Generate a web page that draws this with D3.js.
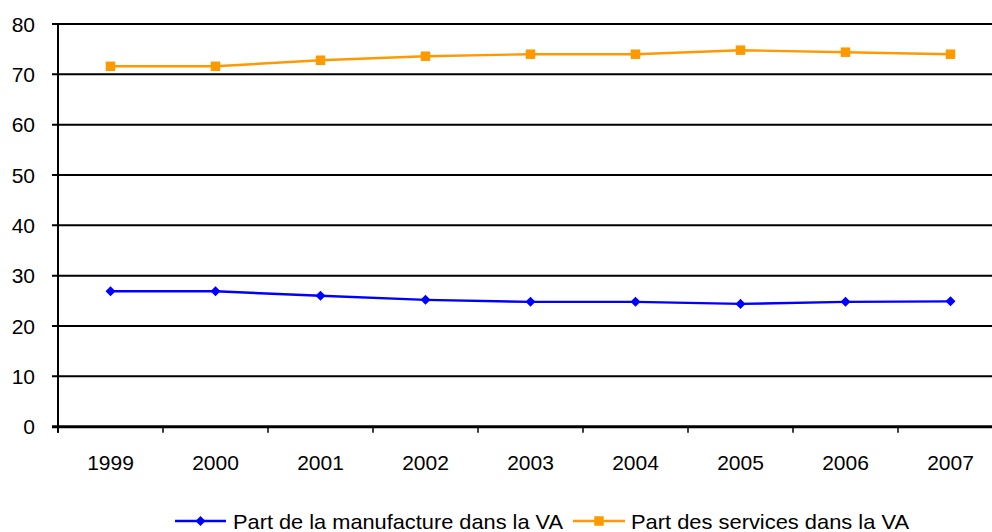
<!DOCTYPE html>
<html>
<head>
<meta charset="utf-8">
<script src="https://cdn.jsdelivr.net/npm/d3@7"></script>
<style>
  html, body { margin: 0; padding: 0; background: #fff; }
  svg { display: block; font-family: "Liberation Sans", Arial, sans-serif; }
</style>
</head>
<body>
<svg id="chart" width="992" height="532"></svg>
<script>
// Share of value added by sector, 1999–2007 (%)
const years = ["1999", "2000", "2001", "2002", "2003", "2004", "2005", "2006", "2007"];
const manufacture = [26.9, 26.9, 26.0, 25.2, 24.8, 24.8, 24.4, 24.8, 24.9];
const services = [71.6, 71.6, 72.8, 73.6, 74.0, 74.0, 74.8, 74.4, 74.0];
const yTicks = [0, 10, 20, 30, 40, 50, 60, 70, 80];
const seriesNames = ["Part de la manufacture dans la VA", "Part des services dans la VA"];

(function () {
  const svg = d3.select("#chart");
  const W = 992;
  const fontSize = 21;

  const plotLeft = 58, plotTop = 24, plotBottom = 426.7;
  const step = 105;

  const x = d3.scaleBand().domain(years).range([plotLeft, plotLeft + step * years.length]).padding(0);
  const y = d3.scaleLinear().domain([0, 80]).range([plotBottom, plotTop]);
  const cx = d => x(d) + x.bandwidth() / 2;

  // Horizontal gridlines (with short outward tick on the left)
  svg.append("g")
    .selectAll("line")
    .data(yTicks.filter(t => t !== 0))
    .join("line")
    .attr("x1", plotLeft - 6).attr("x2", W)
    .attr("y1", d => y(d)).attr("y2", d => y(d))
    .attr("stroke", "#000").attr("stroke-width", 2);

  // Y-axis labels
  svg.append("g")
    .selectAll("text")
    .data(yTicks)
    .join("text")
    .attr("x", 35)
    .attr("y", d => y(d))
    .attr("dy", "0.36em")
    .attr("text-anchor", "end")
    .attr("font-size", fontSize)
    .attr("fill", "#000")
    .text(d => d);

  // Vertical axis line
  svg.append("line")
    .attr("x1", plotLeft).attr("x2", plotLeft)
    .attr("y1", y(80)).attr("y2", y(0) + 6)
    .attr("stroke", "#000").attr("stroke-width", 2);

  // X axis (category boundaries as ticks)
  const boundaries = years.map(d => x(d)).concat([x(years[years.length - 1]) + x.bandwidth()]);
  svg.append("g")
    .selectAll("line")
    .data(boundaries)
    .join("line")
    .attr("x1", d => d).attr("x2", d => d)
    .attr("y1", y(0)).attr("y2", y(0) + 6)
    .attr("stroke", "#000").attr("stroke-width", 1.5);

  svg.append("line")
    .attr("x1", plotLeft - 6).attr("x2", W)
    .attr("y1", y(0)).attr("y2", y(0))
    .attr("stroke", "#000").attr("stroke-width", 3);

  svg.append("g")
    .selectAll("text")
    .data(years)
    .join("text")
    .attr("x", d => cx(d))
    .attr("y", 470)
    .attr("text-anchor", "middle")
    .attr("font-size", fontSize)
    .attr("fill", "#000")
    .text(d => d);

  // Lines
  const line = d3.line().x((d, i) => cx(years[i])).y(d => y(d));

  svg.append("path").datum(manufacture)
    .attr("d", line).attr("fill", "none")
    .attr("stroke", "#0000FF").attr("stroke-width", 2.4);

  svg.append("path").datum(services)
    .attr("d", line).attr("fill", "none")
    .attr("stroke", "#FF9900").attr("stroke-width", 2.4);

  // Markers
  const diamond = d3.symbol().type(d3.symbolDiamond2).size(64);
  svg.append("g")
    .selectAll("path")
    .data(manufacture)
    .join("path")
    .attr("transform", (d, i) => `translate(${cx(years[i])},${y(d)})`)
    .attr("d", diamond())
    .attr("fill", "#0000FF");

  svg.append("g")
    .selectAll("rect")
    .data(services)
    .join("rect")
    .attr("x", (d, i) => cx(years[i]) - 4.75)
    .attr("y", d => y(d) - 4.75)
    .attr("width", 9.5).attr("height", 9.5)
    .attr("fill", "#FF9900");

  // Legend
  const legY = 521;
  const legend = svg.append("g");

  legend.append("line")
    .attr("x1", 175).attr("x2", 226).attr("y1", legY).attr("y2", legY)
    .attr("stroke", "#0000FF").attr("stroke-width", 2.4);
  legend.append("path")
    .attr("transform", `translate(200.5,${legY})`)
    .attr("d", diamond())
    .attr("fill", "#0000FF");
  legend.append("text")
    .attr("x", 233).attr("y", legY).attr("dy", "0.36em")
    .attr("font-size", fontSize)
    .attr("textLength", 330).attr("lengthAdjust", "spacingAndGlyphs")
    .text(seriesNames[0]);

  legend.append("line")
    .attr("x1", 573).attr("x2", 625).attr("y1", legY).attr("y2", legY)
    .attr("stroke", "#FF9900").attr("stroke-width", 2.4);
  legend.append("rect")
    .attr("x", 599 - 4.75).attr("y", legY - 4.75)
    .attr("width", 9.5).attr("height", 9.5)
    .attr("fill", "#FF9900");
  legend.append("text")
    .attr("x", 631).attr("y", legY).attr("dy", "0.36em")
    .attr("font-size", fontSize)
    .attr("textLength", 278).attr("lengthAdjust", "spacingAndGlyphs")
    .text(seriesNames[1]);
})();
</script>
</body>
</html>
